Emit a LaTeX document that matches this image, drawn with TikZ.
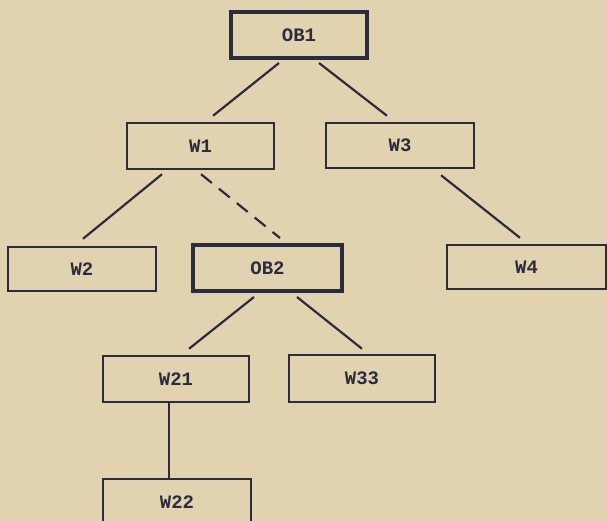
\documentclass[tikz,border=0pt]{standalone}
\usepackage{fontspec}
\setmonofont{Liberation Mono}
\definecolor{paper}{RGB}{226,211,176}
\definecolor{ink}{RGB}{45,44,62}
\begin{document}
\begin{tikzpicture}[x=1pt,y=-1pt,
  box/.style={draw=ink, line width=2.4pt, inner sep=0pt, text=ink,
    font=\fontsize{19}{19}\selectfont\ttfamily\bfseries},
  thickbox/.style={box, line width=4pt},
  conn/.style={draw=ink, line width=2.2pt},
  dashconn/.style={conn, dash pattern=on 14pt off 9pt}]
\fill[paper] (0,0) rectangle (607,521);
\useasboundingbox (0,0) rectangle (607,521);
\begin{scope}
\clip (0,0) rectangle (607,521);
\node[thickbox, minimum width=136pt, minimum height=46pt] (ob1) at (299,35) {OB1};
\node[box, minimum width=147pt, minimum height=46pt] (w1) at (200.5,146) {W1};
\node[box, minimum width=148pt, minimum height=45pt] (w3) at (400,145.5) {W3};
\node[box, minimum width=148pt, minimum height=44pt] (w2) at (82,269) {W2};
\node[thickbox, minimum width=149pt, minimum height=46pt] (ob2) at (267.5,268) {OB2};
\node[box, minimum width=159pt, minimum height=44pt] (w4) at (526.5,267) {W4};
\node[box, minimum width=146pt, minimum height=46pt] (w21) at (176,379) {W21};
\node[box, minimum width=146pt, minimum height=47pt] (w33) at (362,378.5) {W33};
\node[box, minimum width=148pt, minimum height=46pt, anchor=north] (w22) at (177,478) {W22};
\end{scope}
\draw[conn] ([xshift=-20pt,yshift=-3pt]ob1.south) -- ([xshift=12.5pt,yshift=6pt]w1.north);
\draw[conn] ([xshift=20pt,yshift=-3pt]ob1.south) -- ([xshift=-13pt,yshift=6pt]w3.north);
\draw[conn] ([xshift=-38.5pt,yshift=-4pt]w1.south) -- ([xshift=1pt,yshift=7pt]w2.north);
\draw[dashconn] ([xshift=0.5pt,yshift=-4pt]w1.south) -- ([xshift=12.5pt,yshift=5pt]ob2.north);
\draw[conn] ([xshift=41pt,yshift=-6pt]w3.south) -- ([xshift=-6.5pt,yshift=6pt]w4.north);
\draw[conn] ([xshift=-13.5pt,yshift=-4pt]ob2.south) -- ([xshift=13pt,yshift=6pt]w21.north);
\draw[conn] ([xshift=29.5pt,yshift=-4pt]ob2.south) -- ([yshift=5pt]w33.north);
\draw[conn] ([xshift=-7pt]w21.south) -- ([xshift=-8pt]w22.north);
\end{tikzpicture}
\end{document}
